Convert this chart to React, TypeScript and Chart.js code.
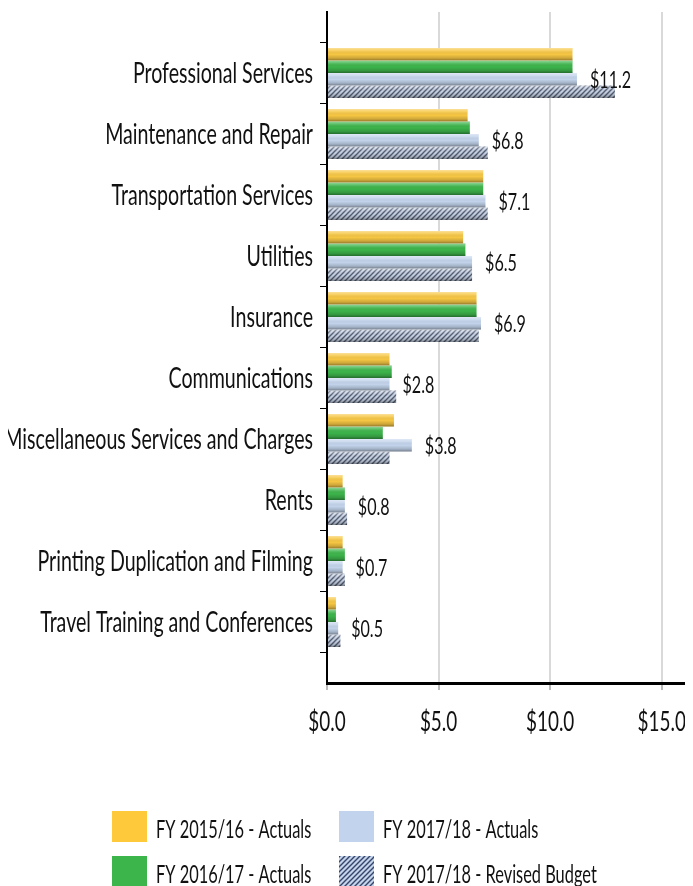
import React, { useEffect, useRef } from "react";
import { Chart, registerables } from "chart.js";

Chart.register(...registerables);

const categories = [
  "Professional Services",
  "Maintenance and Repair",
  "Transportation Services",
  "Utilities",
  "Insurance",
  "Communications",
  "Miscellaneous Services and Charges",
  "Rents",
  "Printing Duplication and Filming",
  "Travel Training and Conferences",
];
const fy1516Actuals = [11.0, 6.3, 7.0, 6.1, 6.7, 2.8, 3.0, 0.7, 0.7, 0.4];
const fy1617Actuals = [11.0, 6.4, 7.0, 6.2, 6.7, 2.9, 2.5, 0.8, 0.8, 0.4];
const fy1718Actuals = [11.2, 6.8, 7.1, 6.5, 6.9, 2.8, 3.8, 0.8, 0.7, 0.5];
const fy1718Revised = [12.9, 7.2, 7.2, 6.5, 6.8, 3.1, 2.8, 0.9, 0.8, 0.6];
const seriesNames = [
  "FY 2015/16 - Actuals",
  "FY 2016/17 - Actuals",
  "FY 2017/18 - Actuals",
  "FY 2017/18 - Revised Budget",
];
const xTickValues = [0, 5, 10, 15];
const xMax = 16.4;

const FONT = 'Lato, "Noto Sans", sans-serif';
const TEXT = "#111";
const YELLOW = "#f7c744";
const GREEN = "#3db54b";
const LIGHTBLUE = "#c3d4ec";

const pad = (arr: (number | null)[]) => [null, ...arr, null];

function makeHatch(ctx: CanvasRenderingContext2D, bg: string, line: string, lw: number) {
  const s = 5;
  const c = document.createElement("canvas");
  c.width = s;
  c.height = s;
  const g = c.getContext("2d")!;
  g.fillStyle = bg;
  g.fillRect(0, 0, s, s);
  g.strokeStyle = line;
  g.lineWidth = lw;
  g.beginPath();
  g.moveTo(-1, s + 1);
  g.lineTo(s + 1, -1);
  g.moveTo(-2, 2);
  g.lineTo(2, -2);
  g.moveTo(s - 2, s + 2);
  g.lineTo(s + 2, s - 2);
  g.stroke();
  return ctx.createPattern(c, "repeat")!;
}

function squishText(
  ctx: CanvasRenderingContext2D,
  text: string,
  x: number,
  y: number,
  size: number,
  sx: number,
  align: "left" | "right" | "center"
) {
  ctx.save();
  ctx.font = `${size}px ${FONT}`;
  ctx.fillStyle = TEXT;
  ctx.textBaseline = "alphabetic";
  ctx.textAlign = "left";
  const w = ctx.measureText(text).width * sx;
  const left = align === "right" ? x - w : align === "center" ? x - w / 2 : x;
  ctx.translate(left, y);
  ctx.scale(sx, 1);
  ctx.fillText(text, 0, 0);
  ctx.restore();
}

const SX = 0.7;
const LEGEND_SX = 0.655;

const decorPlugin = {
  id: "decor",
  afterDatasetsDraw(chart: any) {
    const ctx = chart.ctx;
    const area = chart.chartArea;
    ctx.save();
    ctx.beginPath();
    ctx.rect(area.left, area.top, area.right - area.left, area.bottom - area.top);
    ctx.clip();
    chart.data.datasets.forEach((ds: any, di: number) => {
      const meta = chart.getDatasetMeta(di);
      meta.data.forEach((el: any, i: number) => {
        if (ds.data[i] == null) return;
        const p = el.getProps(["x", "y", "base", "height"], true);
        const left = Math.min(p.base, p.x);
        const w = Math.abs(p.x - p.base);
        const top = p.y - p.height / 2;
        const gr = ctx.createLinearGradient(0, top, 0, top + p.height);
        gr.addColorStop(0, "rgba(255,255,255,0.45)");
        gr.addColorStop(0.22, "rgba(255,255,255,0.15)");
        gr.addColorStop(0.5, "rgba(0,0,0,0)");
        gr.addColorStop(0.8, "rgba(0,0,0,0.16)");
        gr.addColorStop(1, "rgba(0,0,0,0.4)");
        ctx.fillStyle = gr;
        ctx.fillRect(left, top, w, p.height);
      });
    });
    ctx.restore();

    // value labels on FY 2017/18 Actuals
    const meta = chart.getDatasetMeta(2);
    const ds = chart.data.datasets[2];
    meta.data.forEach((el: any, i: number) => {
      const v = ds.data[i];
      if (v == null) return;
      const p = el.getProps(["x", "y"], true);
      squishText(ctx, "$" + v.toFixed(1), p.x + 13, p.y + 8.5, 23, SX, "left");
    });
  },
  afterDraw(chart: any) {
    const ctx = chart.ctx;
    const ys = chart.scales.y;
    const xs = chart.scales.x;
    // category labels
    chart.data.labels.forEach((lab: string, i: number) => {
      if (!lab) return;
      const py = ys.getPixelForTick(i);
      squishText(ctx, lab, ys.right - 14, py + 9.5, 28, SX, "right");
    });
    // x tick labels
    xTickValues.forEach((v) => {
      squishText(ctx, "$" + v.toFixed(1), xs.getPixelForValue(v), xs.top + 48, 27, SX, "center");
    });
    // legend
    const items = [
      { name: seriesNames[0], fill: "#ffc93c", x: 104, y: 803 },
      { name: seriesNames[1], fill: "#3cb54a", x: 104, y: 848 },
      { name: seriesNames[2], fill: "#c2d4ed", x: 331, y: 803 },
      { name: seriesNames[3], fill: chart.$legendHatch, x: 331, y: 848 },
    ];
    items.forEach((it) => {
      ctx.save();
      ctx.fillStyle = it.fill;
      ctx.fillRect(it.x, it.y, 35, 31);
      ctx.restore();
      squishText(ctx, it.name, it.x + 44, it.y + 27, 25, LEGEND_SX, "left");
    });
  },
};

export default function App() {
  const ref = useRef<HTMLCanvasElement>(null);

  useEffect(() => {
    document.documentElement.style.overflow = "hidden";
    const canvas = ref.current!;
    const ctx = canvas.getContext("2d")!;
    const hatch = makeHatch(ctx, "#c6d1e2", "#545e74", 1.4);
    const legendHatch = makeHatch(ctx, "#c5d4ea", "#34446a", 1.4);
    const labels = ["", ...categories, ""];
    const chart: any = new Chart(ctx, {
      type: "bar",
      data: {
        labels,
        datasets: [
          { label: seriesNames[0], data: pad(fy1516Actuals), backgroundColor: YELLOW },
          { label: seriesNames[1], data: pad(fy1617Actuals), backgroundColor: GREEN },
          { label: seriesNames[2], data: pad(fy1718Actuals), backgroundColor: LIGHTBLUE },
          { label: seriesNames[3], data: pad(fy1718Revised), backgroundColor: hatch },
        ],
      },
      options: {
        indexAxis: "y",
        animation: false,
        responsive: false,
        maintainAspectRatio: false,
        devicePixelRatio: 1,
        layout: { padding: { top: 4, left: 0, right: 0, bottom: 0 } },
        datasets: { bar: { categoryPercentage: 0.82, barPercentage: 1 } },
        plugins: {
          legend: { display: false },
          tooltip: { enabled: false },
        },
        scales: {
          x: {
            type: "linear",
            min: 0,
            max: xMax,
            afterBuildTicks: (s: any) => {
              s.ticks = xTickValues.map((v) => ({ value: v }));
            },
            afterFit: (s: any) => {
              s.height = 203;
              s.paddingLeft = 0;
              s.paddingRight = 0;
            },
            grid: {
              color: "#d9d9d9",
              lineWidth: 2,
              drawTicks: true,
              tickLength: 7,
              tickColor: "#777",
              tickWidth: 1,
            },
            border: { display: true, color: "#000", width: 3 },
            ticks: { display: false },
          },
          y: {
            type: "category",
            offset: false,
            afterFit: (s: any) => {
              s.width = 319;
              s.paddingTop = 0;
              s.paddingBottom = 0;
            },
            grid: {
              drawOnChartArea: false,
              drawTicks: true,
              tickLength: 7,
              tickColor: "#000",
              tickWidth: 1,
            },
            border: { display: true, color: "#000", width: 2 },
            ticks: { display: false, autoSkip: false },
          },
        },
      },
      plugins: [decorPlugin],
    } as any);
    chart.$legendHatch = legendHatch;
    chart.draw();
    return () => chart.destroy();
  }, []);

  return (
    <div style={{ position: "relative", width: 685, height: 878 }}>
      <canvas ref={ref} width={685} height={878} style={{ display: "block", width: 685, height: 878 }} />
    </div>
  );
}
